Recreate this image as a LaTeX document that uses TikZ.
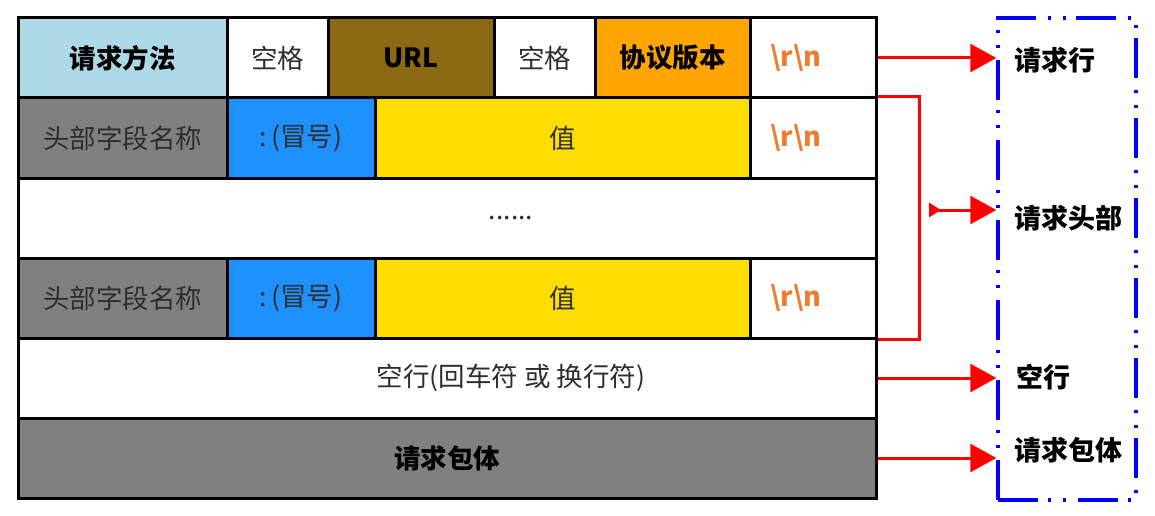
\documentclass[tikz,border=0pt]{standalone}
\usepackage{fontspec}
\setmainfont{Noto Sans CJK SC}
\usetikzlibrary{arrows.meta}
\definecolor{methodblue}{HTML}{ADD8E6}
\definecolor{urlbrown}{HTML}{8B6914}
\definecolor{verorange}{HTML}{FFA500}
\definecolor{fieldgray}{HTML}{808080}
\definecolor{colonblue}{HTML}{1E90FF}
\definecolor{valyellow}{HTML}{FFDD00}
\definecolor{crlforange}{HTML}{ED7D31}
\definecolor{txtgray}{HTML}{2E2E2E}
\begin{document}
\begin{tikzpicture}[x = 1pt, y = -1pt,
	cell/.style = {draw = black, line width = 3pt, minimum height = 80pt, inner sep = 0pt, text = txtgray, font = \fontsize{26.5}{30}\selectfont},
	boldcell/.style = {cell, text = black, font = \fontsize{26.5}{30}\selectfont\bfseries},
	crlf/.style = {cell, fill = white, minimum width = 126pt, text width = 86pt, inner xsep = 20pt, align = left, text = crlforange, font = \fontsize{27}{30}\selectfont\bfseries},
	tag/.style = {anchor = west, inner sep = 0pt, font = \fontsize{27}{30}\selectfont\bfseries},
	redarrow/.style = {draw = red, line width = 3pt, -{Triangle[length = 26pt, width = 28pt]}}]
	\useasboundingbox (0,0) rectangle (1155,516);
	\node[boldcell, fill = methodblue, minimum width = 209pt] (method) at (122.5,58) {请求方法};
	\node[cell, fill = white, minimum width = 101pt] (space1) at (277.5,58) {空格};
	\node[boldcell, fill = urlbrown, minimum width = 166pt] (url) at (411,58) {URL};
	\node[cell, fill = white, minimum width = 101pt] (space2) at (544.5,58) {空格};
	\node[boldcell, fill = verorange, minimum width = 155pt] (version) at (672.5,58) {协议版本};
	\node[crlf] (crlf1) at (813,58) {\textbackslash r\textbackslash n};
	\node[cell, fill = fieldgray, minimum width = 209pt] (field1) at (122.5,138) {头部字段名称};
	\node[cell, fill = colonblue, minimum width = 148pt] (colon1) at (301,138) {:\,(冒号)};
	\node[cell, fill = valyellow, minimum width = 375pt] (value1) at (562.5,138) {值};
	\node[crlf] (crlf2) at (813,138) {\textbackslash r\textbackslash n};
	\node[cell, fill = white, minimum width = 858pt] (dots) at (447,218) {\hspace*{128pt}......};
	\node[cell, fill = fieldgray, minimum width = 209pt] (field2) at (122.5,298) {头部字段名称};
	\node[cell, fill = colonblue, minimum width = 148pt] (colon2) at (301,298) {:\,(冒号)};
	\node[cell, fill = valyellow, minimum width = 375pt] (value2) at (562.5,298) {值};
	\node[crlf] (crlf3) at (813,298) {\textbackslash r\textbackslash n};
	\node[cell, fill = white, minimum width = 858pt] (blank) at (447,378) {\hspace*{128pt}空行(回车符 或 换行符)};
	\node[boldcell, fill = fieldgray, minimum width = 858pt] (body) at (447,458) {请求包体};
	\node[draw = blue, line width = 3.5pt, dash pattern = on 40pt off 10pt on 3pt off 12pt on 3pt off 12pt, minimum width = 138pt, minimum height = 482pt] (frame) at (1067,259) {};
	\node[tag] (reqline) at (1014,60) {请求行};
	\node[tag] (reqhead) at (1014,218) {请求头部};
	\node[tag] (blankline) at (1016,377) {空行};
	\node[tag] (reqbody) at (1014,450) {请求包体};
	\coordinate (brk) at (919,210);
	\draw[red, line width = 3pt] (crlf2.north east) -| (brk) |- (crlf3.south east);
	\draw[redarrow] (crlf1.east) -- (crlf1.east -| frame.west);
	\draw[redarrow, {Triangle[reversed, length = 12pt, width = 14pt]}-{Triangle[length = 26pt, width = 28pt]}] ([xshift = 10pt]brk) -- (brk -| frame.west);
	\draw[redarrow] (blank.east) -- (blank.east -| frame.west);
	\draw[redarrow] (body.east) -- (body.east -| frame.west);
\end{tikzpicture}
\end{document}
